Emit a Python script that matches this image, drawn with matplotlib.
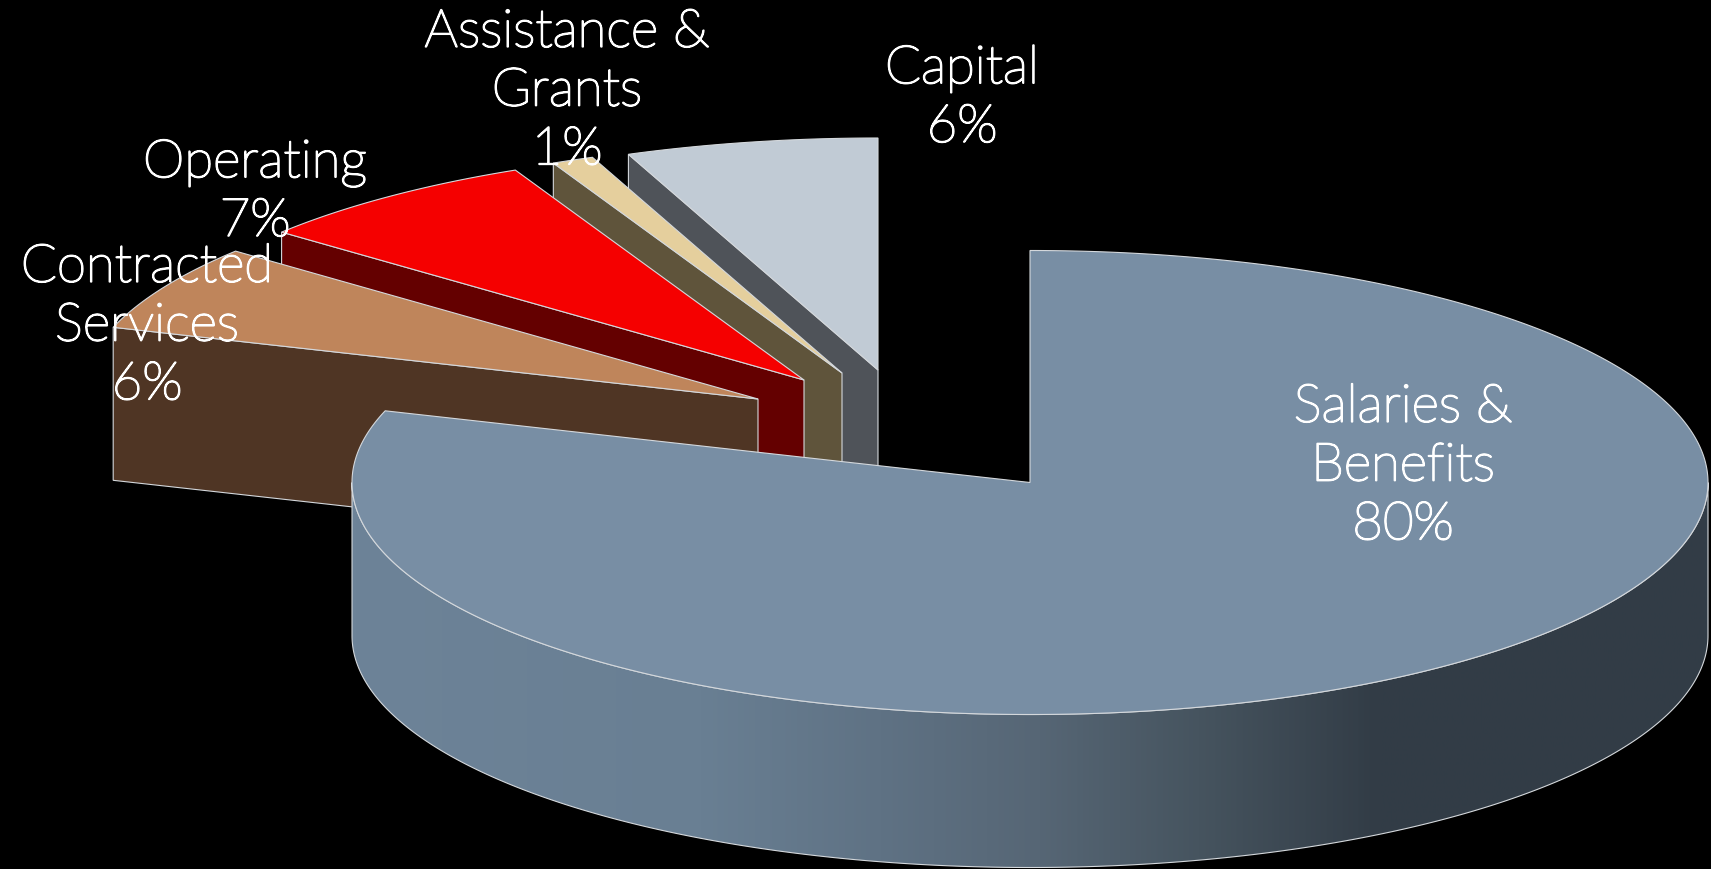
import numpy as np
import matplotlib
matplotlib.use('Agg')
import matplotlib.pyplot as plt
import matplotlib.patheffects as pe
from matplotlib.patches import Polygon
from matplotlib.colors import LinearSegmentedColormap

categories = ['Salaries &\nBenefits', 'Contracted\nServices', 'Operating', 'Assistance &\nGrants', 'Capital']
values = [80, 6, 7, 1, 6]

top_colors = ['#788ea4', '#bf855b', '#f50000', '#e5cf9d', '#c1cbd5']
side_colors = ['#6d8398', '#4f3524', '#640000', '#5f543b', '#4f5359']

# pie geometry in pixels, y going down
center_x, center_y = 918, 431
rx, ry = 678, 232
depth = 153
slice_shift = [(112, 51.5), (-160, -32), (-114, -51), (-76, -58), (-40, -61)]
label_pos = [(1403, 466), (147, 326), (255, 192), (567, 91), (962, 98)]
edge = '#d4d8dc'

wall_x = [352, 700, 880, 1040, 1200, 1380, 1708]
wall_c = ['#6d8398', '#697f93', '#5f7284', '#566675', '#46545f', '#323c46', '#323d47']


def arc(x0, y0, a0, a1):
    # angles clockwise from 12 o'clock, in degrees
    t = np.radians(np.linspace(a0, a1, max(int(abs(a1 - a0) * 2), 2)))
    return np.column_stack([x0 + rx * np.sin(t), y0 - ry * np.cos(t)])


fig = plt.figure(figsize=(17.11, 8.69), dpi=100, facecolor='black')
ax = fig.add_axes([0, 0, 1, 1])
ax.set_xlim(0, 1711)
ax.set_ylim(869, 0)
ax.axis('off')

stops = np.cumsum([0] + values) / sum(values) * 360

# back slices first, Capital at the back and Salaries in front
for i in [4, 3, 2, 1, 0]:
    a0, a1 = stops[i], stops[i + 1]
    x0 = center_x + slice_shift[i][0]
    y0 = center_y + slice_shift[i][1]
    z = 10 - i if i else 20

    if i == 0:
        # front rim, shaded left to right
        rim = arc(x0, y0, 90, 270)
        wall = np.vstack([rim, (rim + [0, depth])[::-1]])
        patch = Polygon(wall, closed=True, fc='none', ec=edge, lw=0.8, zorder=z + 1)
        ax.add_patch(patch)
        pos = [(x - wall_x[0]) / (wall_x[-1] - wall_x[0]) for x in wall_x]
        cmap = LinearSegmentedColormap.from_list('rim', list(zip(pos, wall_c)))
        grad = np.linspace(0, 1, 512).reshape(1, -1)
        im = ax.imshow(grad, cmap=cmap, aspect='auto', zorder=z,
                       extent=[wall_x[0], wall_x[-1], 869, 400])
        im.set_clip_path(patch)
        ax.set_xlim(0, 1711)
        ax.set_ylim(869, 0)
    else:
        # cut face below the leading radius
        out = arc(x0, y0, a0, a0)[0]
        face = [(x0, y0), out, out + [0, depth], (x0, y0 + depth)]
        ax.add_patch(Polygon(face, closed=True, fc=side_colors[i], ec=edge, lw=0.8, zorder=z))

    top = np.vstack([[(x0, y0)], arc(x0, y0, a0, a1)])
    ax.add_patch(Polygon(top, closed=True, fc=top_colors[i], ec=edge, lw=0.8, zorder=z + 2))

# the light weight is a hairline at this size, so thicken it a little
for name, val, (lx, ly) in zip(categories, values, label_pos):
    ax.text(lx, ly, f'{name}\n{val}%', color='white', ha='center', va='center',
            family='Lato', weight='light', fontsize=38, linespacing=1.25, zorder=50,
            path_effects=[pe.withStroke(linewidth=1.3, foreground='white')])

fig.savefig('out.png', dpi=100, facecolor='black')
